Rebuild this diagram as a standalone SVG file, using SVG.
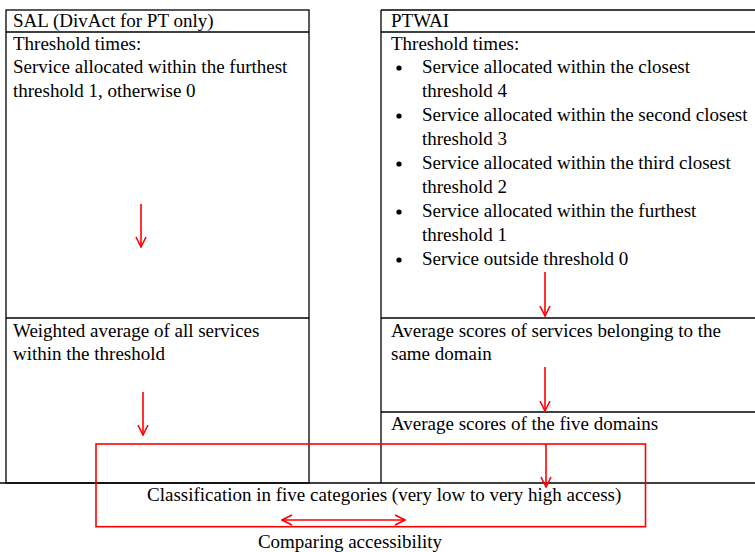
<svg xmlns="http://www.w3.org/2000/svg" width="755" height="552" viewBox="0 0 755 552">
<defs>
<style>
.ln{stroke:#000;stroke-width:1.3;fill:none}
.t{font-family:"Liberation Serif","Times New Roman",serif;font-size:19px;fill:#000}
.ar{stroke:#f00;stroke-width:1.6;fill:none}
</style>
<marker id="ah" viewBox="0 0 12 12" refX="11" refY="6" markerWidth="12" markerHeight="12" markerUnits="userSpaceOnUse" orient="auto-start-reverse">
<path d="M1,1 L11,6 L1,11" fill="none" stroke="#f00" stroke-width="1.6"/>
</marker>
</defs>
<rect width="755" height="552" fill="#fff"/>
<g id="sal-table">
<rect class="ln" x="6" y="10" width="303" height="473"/>
<line class="ln" x1="6" y1="32" x2="309" y2="32"/>
<line class="ln" x1="6" y1="318" x2="309" y2="318"/>
<text class="t" x="13" y="27">SAL (DivAct for PT only)</text>
<text class="t" x="13" y="50">Threshold times:</text>
<text class="t" x="13" y="73">Service allocated within the furthest</text>
<text class="t" x="13" y="97">threshold 1, otherwise 0</text>
<text class="t" x="13" y="337">Weighted average of all services</text>
<text class="t" x="13" y="360">within the threshold</text>
</g>
<g id="ptwai-table">
<line class="ln" x1="381" y1="10" x2="755" y2="10"/>
<line class="ln" x1="381" y1="10" x2="381" y2="483"/>
<line class="ln" x1="381" y1="32" x2="755" y2="32"/>
<line class="ln" x1="381" y1="318" x2="755" y2="318"/>
<line class="ln" x1="381" y1="412" x2="755" y2="412"/>
<line class="ln" x1="0" y1="483" x2="755" y2="483"/>
<text class="t" x="391" y="27">PTWAI</text>
<text class="t" x="391" y="50">Threshold times:</text>
<g fill="#000">
<circle cx="399" cy="68" r="2.6"/>
<circle cx="399" cy="116" r="2.6"/>
<circle cx="399" cy="164" r="2.6"/>
<circle cx="399" cy="212" r="2.6"/>
<circle cx="399" cy="260" r="2.6"/>
</g>
<text class="t" x="422" y="73">Service allocated within the closest</text>
<text class="t" x="422" y="97">threshold 4</text>
<text class="t" x="422" y="121">Service allocated within the second closest</text>
<text class="t" x="422" y="145">threshold 3</text>
<text class="t" x="422" y="169">Service allocated within the third closest</text>
<text class="t" x="422" y="193">threshold 2</text>
<text class="t" x="422" y="217">Service allocated within the furthest</text>
<text class="t" x="422" y="241">threshold 1</text>
<text class="t" x="422" y="265">Service outside threshold 0</text>
<text class="t" x="391" y="337">Average scores of services belonging to the</text>
<text class="t" x="391" y="360">same domain</text>
<text class="t" x="391" y="430">Average scores of the five domains</text>
</g>
<g id="classification">
<rect x="96" y="444" width="549.5" height="82.7" fill="none" stroke="#f00" stroke-width="1.6"/>
<text class="t" x="147" y="501">Classification in five categories (very low to very high access)</text>
</g>
<g id="comparing">
<text class="t" x="350" y="548" text-anchor="middle">Comparing accessibility</text>
</g>
<g id="connectors">
<line class="ar" x1="141" y1="204" x2="141" y2="247" marker-end="url(#ah)"/>
<line class="ar" x1="143" y1="392" x2="143" y2="435" marker-end="url(#ah)"/>
<line class="ar" x1="545" y1="272" x2="545" y2="316" marker-end="url(#ah)"/>
<line class="ar" x1="545" y1="367" x2="545" y2="411" marker-end="url(#ah)"/>
<line class="ar" x1="546" y1="444" x2="546" y2="487" marker-end="url(#ah)"/>
<line class="ar" x1="282" y1="520" x2="405" y2="520" marker-start="url(#ah)" marker-end="url(#ah)"/>
</g>
</svg>
